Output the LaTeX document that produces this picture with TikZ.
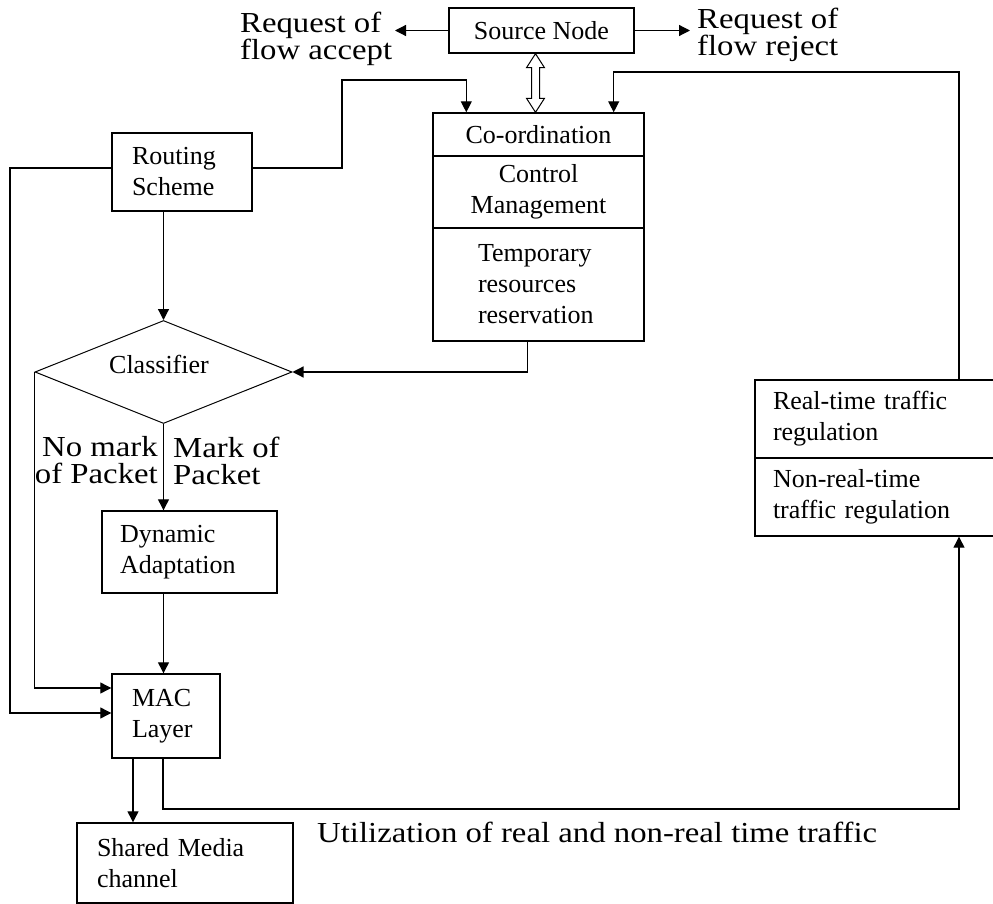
\documentclass[tikz,border=0pt]{standalone}
\usepackage{fontspec}
\setmainfont{Liberation Serif}
\newfontfamily\labfont[FakeStretch=1.13]{Liberation Serif}
\usetikzlibrary{arrows.meta,shapes.geometric,calc}
\begin{document}
\begin{tikzpicture}[x=1pt,y=-1pt,
  box/.style={draw,line width=1.4pt,inner ysep=0pt,font=\fontsize{26}{31}\selectfont},
  lbox/.style={box,align=left},
  cbox/.style={box,align=center},
  lab/.style={inner sep=0pt,font=\labfont\fontsize{29}{27.5}\selectfont,execute at begin node={\setlength{\lineskiplimit}{-50pt}}},
  arr/.style={line width=1.2pt,-{Triangle[length=11pt,width=11pt]}},
  ln/.style={line width=1.2pt}]
\useasboundingbox (0,0) rectangle (993,904);
% boxes
\node[cbox, minimum width=185pt, minimum height=45pt] (src) at (541.5,30.5) {Source Node};
\node[cbox, minimum width=211pt, minimum height=43pt] (c1) at (538.5,134.5) {Co-ordination};
\node[cbox, minimum width=211pt, minimum height=72pt] (c2) at (538.5,192) {Control\\Management};
\node[lbox, text width=121pt, inner xsep=45pt, minimum height=113pt] (c3) at (538.5,284.5) {Temporary\\resources\\reservation};
\node[lbox, text width=100pt, inner xsep=20pt, minimum height=78pt] (route) at (182,172) {Routing\\Scheme};
\node[diamond, draw, line width=1pt, minimum width=257pt, minimum height=103pt, inner sep=0pt] (cls) at (163.5,372) {};
\node[inner sep=0pt, font=\fontsize{26}{31}\selectfont] (clstext) at (159,364) {Classifier};
\node[lbox, text width=139pt, inner xsep=18pt, minimum height=82pt] (dyn) at (189.5,552) {Dynamic\\Adaptation};
\node[lbox, text width=68pt, inner xsep=20pt, minimum height=84pt] (mac) at (166,716) {MAC\\Layer};
\node[lbox, text width=176pt, inner xsep=20pt, minimum height=80pt] (shm) at (185,863) {Shared Media\\channel};
\node[lbox, text width=205pt, inner xsep=18pt, minimum height=78pt] (rt1) at (875.5,419) {Real-time traffic\\regulation};
\node[lbox, text width=205pt, inner xsep=18pt, minimum height=78pt] (rt2) at (875.5,497) {Non-real-time\\traffic regulation};
% labels
\node[lab, align=left, anchor=west] (lacc) at (240,39) {Request of\\flow accept};
\node[lab, align=left, anchor=west] (lrej) at (697,35) {Request of\\flow reject};
\node[lab, align=right, anchor=east] (lno) at (158,460) {No mark\\of Packet};
\node[lab, align=left, anchor=west] (lmk) at (173,461) {Mark of\\Packet};
\node[lab, anchor=west] (lutil) at (317,832) {Utilization of real and non-real time traffic};
% helper coordinates
\coordinate (accEnd) at (395,30.5);
\coordinate (rejEnd) at (690,30.5);
\coordinate (dax) at (535.5,0);
\coordinate (rA) at (342,80);
\coordinate (rB) at (959,72);
\coordinate (lA) at (10,168);
\coordinate (rC) at (959,809);
% connectors
\draw[arr] (src.west) -- (accEnd);
\draw[arr] (src.east) -- (rejEnd);
\coordinate (T) at (src.south -| dax);
\coordinate (B) at (c1.north -| dax);
\draw[line width=1pt, fill=white] (T) -- ($(T)+(9,14)$) -- ($(T)+(4,14)$) -- ($(B)+(4,-14)$) -- ($(B)+(9,-14)$) -- (B) -- ($(B)+(-9,-14)$) -- ($(B)+(-4,-14)$) -- ($(T)+(-4,14)$) -- ($(T)+(-9,14)$) -- cycle;
\draw[arr] ($(route.east)+(0,-4)$) -| (rA) -| ($(c1.north west)+(34,0)$);
\draw[arr] (rt1.north -| rB) -- (rB) -| ($(c1.north east)+(-31,0)$);
\draw[arr] (route.south -| cls.north) -- (cls.north);
\draw[arr] ($(route.west)+(0,-4)$) -| ($(mac.west -| lA)+(0,-3)$) -- ($(mac.west)+(0,-3)$);
\draw[arr] ($(c3.south)+(-11,0)$) |- (cls.east);
\draw[arr] (cls.west) |- ($(mac.west)+(0,-28)$);
\draw[arr] (cls.south) -- (cls.south |- dyn.north);
\draw[arr] (dyn.south -| cls.south) -- (cls.south |- mac.north);
\draw[arr] ($(mac.south)+(-33,0)$) -- ($(mac.south |- shm.north)+(-33,0)$);
\draw[arr] ($(mac.south)+(-3,0)$) |- (rC) -- (rt2.south -| rC);
\end{tikzpicture}
\end{document}
